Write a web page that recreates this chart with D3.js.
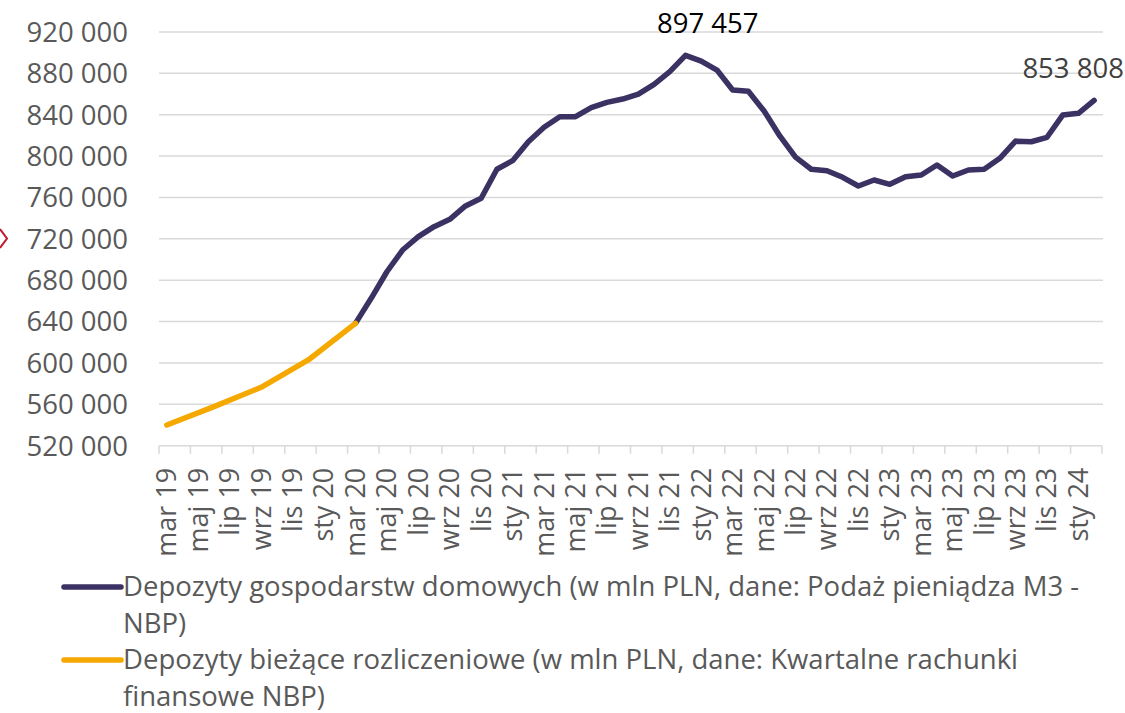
<!DOCTYPE html>
<html><head><meta charset="utf-8">
<script src="https://cdnjs.cloudflare.com/ajax/libs/d3/7.8.5/d3.min.js"></script>
<style>
html,body{margin:0;padding:0;background:#fff;}
svg{display:block;font-family:"Open Sans",sans-serif;}
</style></head>
<body>
<svg id="chart" width="1125" height="713"></svg>
<script>
// ---- data ----
const months = ["sty","lut","mar","kwi","maj","cze","lip","sie","wrz","paź","lis","gru"];
// categories: mar 19 .. lut 24 (monthly)
const categories = [];
for (let k = 2 + 19*12; k <= 1 + 24*12; k++) {
  categories.push(months[k % 12] + " " + String(Math.floor(k / 12)).padStart(2, "0"));
}
// Depozyty gospodarstw domowych (from mar 20)
const householdStart = "mar 20";
const householdValues = [
  638300, 662500, 688200, 709200, 722100, 731800, 738900, 751800, 759300, 787300,
  795600, 813900, 827900, 838100, 838100, 846800, 852000, 855200, 860000, 869400,
  881600, 897457, 891900, 883200, 863900, 862700, 843600, 819500, 799000, 787300,
  785900, 779500, 771100, 776900, 772700, 780100, 781700, 791400, 780800, 786600,
  787300, 797900, 814500, 813900, 818200, 839700, 841400, 853808
];
// Depozyty bieżące rozliczeniowe (quarterly)
const currentCats = ["mar 19","cze 19","wrz 19","gru 19","mar 20"];
const currentValues = [540000, 557800, 576500, 602900, 638300];
const yTicks = [520000,560000,600000,640000,680000,720000,760000,800000,840000,880000,920000];
const seriesNames = [
  "Depozyty gospodarstw domowych (w mln PLN, dane: Podaż pieniądza M3 - NBP)",
  "Depozyty bieżące rozliczeniowe (w mln PLN, dane: Kwartalne rachunki finansowe NBP)"
];
const seriesColors = ["#3b3163", "#f5a800"];
const annotations = [
  {cat: "lis 21", value: 897457, text: "897 457", color: "#000000", dx: 38},
  {cat: "lut 24", value: 853808, text: "853 808", color: "#404040", dx: -21}
];

// ---- layout ----
const svg = d3.select("#chart");
const plotL = 159, plotR = 1102, plotT = 32, plotB = 445.7;

const x = d3.scaleBand().domain(categories).range([plotL, plotR]).paddingInner(0).paddingOuter(0);
const y = d3.scaleLinear().domain([520000, 920000]).range([plotB, plotT]);
const cx = c => x(c) + x.bandwidth() / 2;
const fmt = v => d3.format(",")(v).replace(/,/g, " ");

// gridlines
svg.append("g").selectAll("line").data(yTicks.slice(1)).join("line")
  .attr("x1", plotL).attr("x2", plotR + 1)
  .attr("y1", d => y(d)).attr("y2", d => y(d))
  .attr("stroke", "#d9d9d9").attr("stroke-width", 1.5);

// y axis labels
svg.append("g").selectAll("text").data(yTicks).join("text")
  .attr("x", 128).attr("y", d => y(d)).attr("dy", "0.36em")
  .attr("text-anchor", "end").attr("font-size", 27.5).attr("fill", "#595959")
  .text(fmt);

// x axis
const xAxis = svg.append("g");
xAxis.append("line").attr("x1", plotL).attr("x2", plotR).attr("y1", plotB).attr("y2", plotB)
  .attr("stroke", "#d9d9d9").attr("stroke-width", 1.5);
const tickCats = categories.filter((c, i) => i % 2 === 0);
xAxis.selectAll("line.tick").data(tickCats.concat([null])).join("line").attr("class", "tick")
  .attr("x1", d => d === null ? plotR : x(d)).attr("x2", d => d === null ? plotR : x(d))
  .attr("y1", plotB).attr("y2", plotB + 8)
  .attr("stroke", "#d9d9d9").attr("stroke-width", 1.5);
xAxis.selectAll("text").data(tickCats).join("text")
  .attr("transform", d => `translate(${cx(d)},${plotB + 22}) rotate(-90)`)
  .attr("dy", "0.35em").attr("text-anchor", "end")
  .attr("font-size", 27).attr("fill", "#595959")
  .text(d => d);

// lines
const line = d3.line().x(d => cx(d.c)).y(d => y(d.v));
const startIdx = categories.indexOf(householdStart);
const household = householdValues.map((v, i) => ({c: categories[startIdx + i], v}));
const current = currentValues.map((v, i) => ({c: currentCats[i], v}));
svg.append("path").datum(household).attr("d", line)
  .attr("fill", "none").attr("stroke", seriesColors[0]).attr("stroke-width", 5.5)
  .attr("stroke-linejoin", "round").attr("stroke-linecap", "round");
svg.append("path").datum(current).attr("d", line)
  .attr("fill", "none").attr("stroke", seriesColors[1]).attr("stroke-width", 5.5)
  .attr("stroke-linejoin", "round").attr("stroke-linecap", "round");

// annotations
svg.append("g").selectAll("text").data(annotations).join("text")
  .attr("x", d => cx(d.cat) + d.dx).attr("y", d => y(d.value) - 22)
  .attr("text-anchor", "middle").attr("font-size", 27.5).attr("fill", d => d.color)
  .text(d => d.text);

// legend
const legend = svg.append("g");
const maxW = 1000;
let lineY = 596;
seriesNames.forEach((name, si) => {
  legend.append("line").attr("x1", 64).attr("x2", 121).attr("y1", lineY - 9).attr("y2", lineY - 9)
    .attr("stroke", seriesColors[si]).attr("stroke-width", 5.5).attr("stroke-linecap", "round");
  const words = name.split(" ");
  let cur = [];
  const t = legend.append("text").attr("font-size", 27.5).attr("fill", "#595959");
  let ts = t.append("tspan").attr("x", 123).attr("y", lineY);
  words.forEach(w => {
    cur.push(w);
    ts.text(cur.join(" "));
    if (ts.node().getComputedTextLength() > maxW && cur.length > 1) {
      cur.pop(); ts.text(cur.join(" "));
      lineY += 36.5;
      cur = [w];
      ts = t.append("tspan").attr("x", 123).attr("y", lineY).text(w);
    }
  });
  lineY += 36.5;
});

// red marker fragment at left edge
svg.append("path").attr("d", "M0,229 L7,238.5 L0,248")
  .attr("fill", "none").attr("stroke", "#c0182d").attr("stroke-width", 2);
</script>
</body></html>
